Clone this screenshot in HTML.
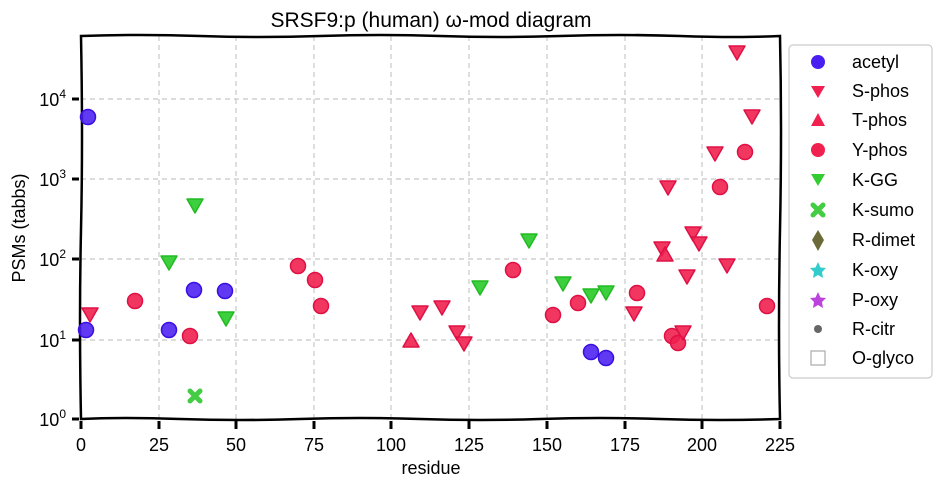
<!DOCTYPE html>
<html><head><meta charset="utf-8"><style>
html,body{margin:0;padding:0;background:#fff;}
svg{display:block;font-family:"Comic Sans MS","Liberation Sans","DejaVu Sans",sans-serif;}
</style></head><body>
<svg width="941" height="492" viewBox="0 0 941 492" xmlns="http://www.w3.org/2000/svg">
<defs>
<g id="ci"><circle r="7.5"/></g>
<g id="dt"><path d="M-8,-6 L8,-6 L0,8 Z" stroke-linejoin="round"/></g>
<g id="ut"><path d="M-8,6 L8,6 L0,-8 Z" stroke-linejoin="round"/></g>
</defs>
<text x="431" y="27" font-size="21" text-anchor="middle" fill="#000">SRSF9:p (human) ω-mod diagram</text>
<g stroke="#c8c8c8" stroke-width="1.2" stroke-dasharray="5,4" fill="none">
<line x1="159" y1="36" x2="159" y2="419"/><line x1="236" y1="36" x2="236" y2="419"/>
<line x1="314" y1="36" x2="314" y2="419"/><line x1="391" y1="36" x2="391" y2="419"/>
<line x1="469" y1="36" x2="469" y2="419"/><line x1="547" y1="36" x2="547" y2="419"/>
<line x1="625" y1="36" x2="625" y2="419"/><line x1="702" y1="36" x2="702" y2="419"/>
<line x1="81" y1="99" x2="780" y2="99"/><line x1="81" y1="179" x2="780" y2="179"/>
<line x1="81" y1="259" x2="780" y2="259"/><line x1="81" y1="340" x2="780" y2="340"/>
</g>
<path d="M81,36 Q140,34 200,36 T320,36 T440,36 T560,36 T680,36 T780,36 Q782,130 780,230 T780,419 Q720,421 660,419 T540,419 T420,419 T300,419 T180,419 T81,419 Q79,320 81,230 T81,36 Z" fill="none" stroke="#000" stroke-width="2.5"/>
<g stroke="#000" stroke-width="3">
<line x1="81" y1="421" x2="81" y2="429"/><line x1="159" y1="421" x2="159" y2="429"/>
<line x1="236" y1="421" x2="236" y2="429"/><line x1="314" y1="421" x2="314" y2="429"/>
<line x1="391" y1="421" x2="391" y2="429"/><line x1="469" y1="421" x2="469" y2="429"/>
<line x1="547" y1="421" x2="547" y2="429"/><line x1="625" y1="421" x2="625" y2="429"/>
<line x1="702" y1="421" x2="702" y2="429"/><line x1="780" y1="421" x2="780" y2="429"/>
<line x1="72" y1="99" x2="79" y2="99"/><line x1="72" y1="179" x2="79" y2="179"/>
<line x1="72" y1="259" x2="79" y2="259"/><line x1="72" y1="340" x2="79" y2="340"/>
<line x1="72" y1="419" x2="79" y2="419"/>
</g>
<g font-size="18" fill="#000" text-anchor="middle">
<text x="81" y="451">0</text><text x="159" y="451">25</text><text x="236" y="451">50</text>
<text x="314" y="451">75</text><text x="391" y="451">100</text><text x="469" y="451">125</text>
<text x="547" y="451">150</text><text x="625" y="451">175</text><text x="702" y="451">200</text>
<text x="780" y="451">225</text>
</g>
<g font-size="18" fill="#000" text-anchor="end">
<text x="66" y="106">10<tspan font-size="12" dy="-8">4</tspan></text>
<text x="66" y="186">10<tspan font-size="12" dy="-8">3</tspan></text>
<text x="66" y="266">10<tspan font-size="12" dy="-8">2</tspan></text>
<text x="66" y="347">10<tspan font-size="12" dy="-8">1</tspan></text>
<text x="66" y="426">10<tspan font-size="12" dy="-8">0</tspan></text>
</g>
<text x="431" y="474" font-size="18" text-anchor="middle">residue</text>
<text transform="translate(25,228) rotate(-90)" font-size="18" text-anchor="middle">PSMs (tabbs)</text>
<g fill="#f0204f" fill-opacity="0.9" stroke="#e01045" stroke-width="1.5">
<use href="#ci" x="135" y="301"/><use href="#ci" x="190" y="336"/><use href="#ci" x="298" y="266"/>
<use href="#ci" x="315" y="280"/><use href="#ci" x="321" y="306"/><use href="#ci" x="513" y="270"/>
<use href="#ci" x="553" y="315"/><use href="#ci" x="578" y="303"/><use href="#ci" x="637" y="293"/>
<use href="#ci" x="672" y="336"/><use href="#ci" x="678" y="343"/><use href="#ci" x="720" y="187"/>
<use href="#ci" x="745" y="152"/><use href="#ci" x="767" y="306"/>
<use href="#dt" x="90" y="314"/><use href="#dt" x="420" y="312"/><use href="#dt" x="442" y="307"/>
<use href="#dt" x="457" y="332"/><use href="#dt" x="464" y="343"/><use href="#dt" x="634" y="313"/>
<use href="#dt" x="668" y="187"/><use href="#dt" x="662" y="248"/><use href="#dt" x="693" y="233"/>
<use href="#dt" x="699" y="243"/><use href="#dt" x="687" y="276"/><use href="#dt" x="727" y="265"/>
<use href="#dt" x="715" y="153"/><use href="#dt" x="752" y="116"/><use href="#dt" x="737" y="52"/>
<use href="#dt" x="683" y="332"/>
<use href="#ut" x="411" y="341"/><use href="#ut" x="665" y="255"/>
</g>
<g fill="#4a1ef0" fill-opacity="0.88" stroke="#3a10e0" stroke-width="1.5">
<use href="#ci" x="88" y="117"/><use href="#ci" x="86" y="330"/><use href="#ci" x="169" y="330"/>
<use href="#ci" x="194" y="290"/><use href="#ci" x="225" y="291"/><use href="#ci" x="591" y="352"/>
<use href="#ci" x="606" y="358"/>
</g>
<g fill="#33cc33" fill-opacity="0.95" stroke="#22bb22" stroke-width="1.5">
<use href="#dt" x="195" y="205"/><use href="#dt" x="169" y="262"/><use href="#dt" x="226" y="318"/>
<use href="#dt" x="529" y="240"/><use href="#dt" x="563" y="283"/><use href="#dt" x="591" y="295"/>
<use href="#dt" x="606" y="292"/><use href="#dt" x="480" y="287"/>
</g>
<g stroke="#44cc44" stroke-width="5" stroke-linecap="round">
<line x1="190" y1="391" x2="200" y2="401"/><line x1="200" y1="391" x2="190" y2="401"/>
</g>
<rect x="789" y="45" width="143" height="333" rx="4" fill="#fff" stroke="#ccc" stroke-width="1.2"/>
<g font-size="18" fill="#000">
<text x="852" y="68">acetyl</text><text x="852" y="97">S-phos</text><text x="852" y="126">T-phos</text>
<text x="852" y="156">Y-phos</text><text x="852" y="186">K-GG</text><text x="852" y="216">K-sumo</text>
<text x="852" y="246">R-dimet</text><text x="852" y="276">K-oxy</text><text x="852" y="306">P-oxy</text>
<text x="852" y="335">R-citr</text><text x="852" y="364">O-glyco</text>
</g>
<circle cx="818" cy="62" r="7" fill="#4a1ef0"/>
<path d="M811,86 L825,86 L818,98 Z" fill="#f0204f"/>
<path d="M811,126 L825,126 L818,113 Z" fill="#f0204f"/>
<circle cx="818" cy="150" r="7" fill="#f0204f"/>
<path d="M811,174 L825,174 L818,186 Z" fill="#33cc33"/>
<g stroke="#44cc44" stroke-width="5" stroke-linecap="round"><line x1="813" y1="205" x2="823" y2="215"/><line x1="823" y1="205" x2="813" y2="215"/></g>
<path d="M818,230 L824,240 L818,251 L812,240 Z" fill="#6b6b3a"/>
<path d="M818,262 L820.5,267.5 L826,268 L822,272 L823,278 L818,275 L813,278 L814,272 L810,268 L815.5,267.5 Z" fill="#33cccc"/>
<path d="M818,292 L820.5,297.5 L826,298 L822,302 L823,308 L818,305 L813,308 L814,302 L810,298 L815.5,297.5 Z" fill="#bb44dd"/>
<circle cx="818" cy="329" r="4" fill="#666"/>
<rect x="811" y="351" width="14" height="14" fill="#fff" stroke="#aaa" stroke-width="1.2"/>
</svg>
</body></html>
